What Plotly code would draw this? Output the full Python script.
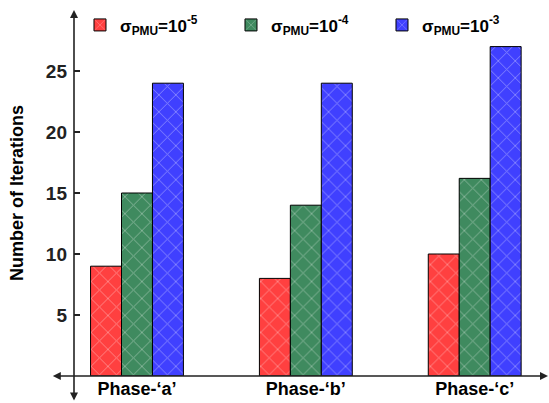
import plotly.graph_objects as go

categories = ["Phase-‘a’", "Phase-‘b’", "Phase-‘c’"]
series_names = ["σ<sub>PMU</sub>=10<sup>-5</sup>",
                "σ<sub>PMU</sub>=10<sup>-4</sup>",
                "σ<sub>PMU</sub>=10<sup>-3</sup>"]
iter_1e5 = [9, 8, 10]
iter_1e4 = [15, 14, 16.2]
iter_1e3 = [24, 24, 27]
colors = ["#ff4040", "#3f8a5f", "#4040ff"]
y_ticks = [5, 10, 15, 20, 25]

FONT = "Liberation Sans, Arial, sans-serif"

fig = go.Figure()
for name, vals, col in zip(series_names, [iter_1e5, iter_1e4, iter_1e3], colors):
    fig.add_trace(go.Bar(
        x=categories, y=vals, name=name,
        marker=dict(color=col, line=dict(color="#000000", width=1),
                    pattern=dict(shape="x", size=12, solidity=0.15,
                                 fgcolor="rgba(255,255,255,0.75)", fillmode="overlay")),
    ))

fig.update_layout(
    width=549, height=403,
    margin=dict(l=74, r=0, t=10, b=27),
    barmode="group", bargap=0.45, bargroupgap=0,
    plot_bgcolor="white", paper_bgcolor="white",
    font=dict(family=FONT, size=15, color="#000"),
    showlegend=True,
    legend=dict(orientation="h", x=0.0126, xanchor="left", y=0.958, yanchor="middle",
                bgcolor="rgba(0,0,0,0)", entrywidth=106, entrywidthmode="pixels",
                font=dict(family=FONT, size=17, color="#000", weight="bold"),
                traceorder="normal"),
    xaxis=dict(range=[-0.373, 2.44], showline=False, showgrid=False, zeroline=False,
               ticks="", tickfont=dict(family=FONT, size=18, color="#000", weight="bold")),
    yaxis=dict(range=[0, 30], tickvals=y_ticks, ticks="inside", ticklen=6, tickwidth=1.5,
               tickcolor="#222", showline=False, showgrid=False, zeroline=False,
               ticklabelstandoff=6,
               tickfont=dict(family=FONT, size=19, color="#222", weight="bold"),
               title=dict(text="Number of Iterations", standoff=17,
                          font=dict(family=FONT, size=18, color="#000", weight="bold"))),
)

# axis lines with arrows
fig.add_annotation(xref="paper", yref="paper", x=0, y=1, ax=0, ay=392,
                   axref="pixel", ayref="pixel", text="", showarrow=True,
                   arrowhead=2, startarrowhead=2, arrowside="end+start",
                   arrowsize=1, startarrowsize=1, arrowwidth=1.6, arrowcolor="#222")
fig.add_annotation(xref="paper", yref="paper", x=0.9985, y=0, ax=-497, ay=0,
                   axref="pixel", ayref="pixel", text="", showarrow=True,
                   arrowhead=2, startarrowhead=2, arrowside="end+start",
                   arrowsize=1, startarrowsize=1, arrowwidth=1.6, arrowcolor="#222")

fig.write_html("out.html")
